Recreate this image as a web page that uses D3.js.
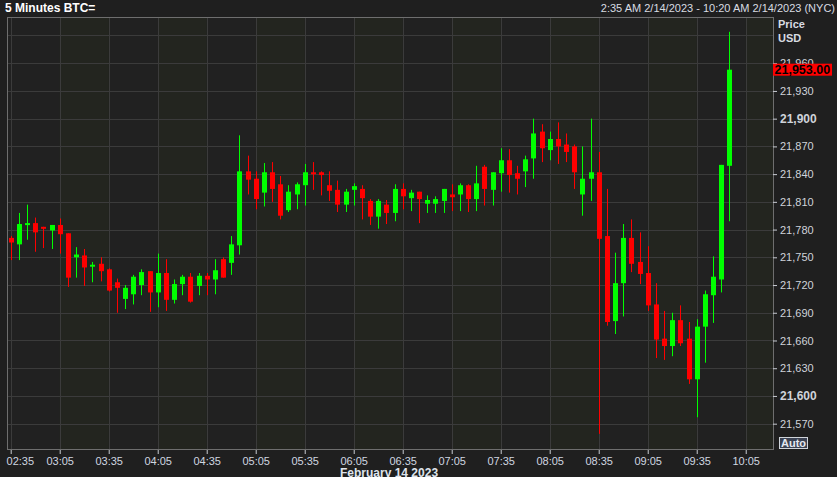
<!DOCTYPE html>
<html><head><meta charset="utf-8">
<script src="https://cdn.jsdelivr.net/npm/d3@7"></script>
<style>
html,body{margin:0;padding:0;background:#1f1f1f;}
svg{display:block;}
text{font-family:"Liberation Sans",Arial,sans-serif;}
</style></head><body>
<svg id="c" width="837" height="477"></svg>
<script>
const title = "5 Minutes BTC=";
const rangeText = "2:35 AM 2/14/2023 - 10:20 AM 2/14/2023 (NYC)";
const dateLabel = "February 14 2023";
const firstBar = "2023-02-14 02:35";
const barMinutes = 5;
const open  = [21771,21764,21785,21787,21783,21779,21785,21776,21750,21752,21740,21743,21737,21723,21705,21710,21720,21735,21712,21733,21704,21721,21729,21719,21730,21726,21748,21744,21763,21843,21835,21820,21842,21829,21801,21818,21828,21842,21842,21828,21823,21807,21823,21824,21811,21794,21807,21798,21824,21814,21821,21808,21808,21811,21818,21818,21828,21813,21848,21823,21841,21855,21841,21843,21857,21886,21866,21878,21872,21870,21818,21835,21842,21773,21681,21722,21771,21745,21733,21699,21662,21654,21682,21662,21618,21675,21709,21726,21849];
const high  = [21773,21798,21807,21793,21783,21785,21792,21776,21761,21759,21745,21750,21738,21727,21720,21731,21737,21735,21754,21748,21726,21731,21733,21733,21733,21748,21750,21773,21882,21860,21843,21852,21853,21838,21828,21831,21851,21853,21843,21843,21833,21824,21830,21828,21813,21813,21812,21829,21830,21823,21821,21817,21816,21824,21829,21830,21829,21849,21850,21842,21868,21867,21849,21860,21900,21894,21886,21896,21884,21872,21870,21900,21864,21824,21755,21786,21791,21777,21762,21722,21692,21690,21698,21680,21683,21714,21751,21850,21994];
const low   = [21747,21747,21769,21756,21760,21759,21754,21718,21728,21719,21723,21724,21713,21690,21694,21699,21709,21691,21696,21692,21700,21709,21701,21709,21709,21710,21728,21731,21753,21818,21802,21805,21810,21791,21799,21802,21806,21823,21817,21811,21799,21799,21806,21791,21785,21781,21786,21789,21802,21800,21787,21798,21798,21798,21800,21800,21799,21800,21806,21806,21821,21820,21818,21826,21835,21853,21855,21851,21853,21824,21795,21811,21559,21676,21667,21686,21734,21721,21692,21641,21639,21643,21654,21613,21577,21636,21679,21712,21789];
const close = [21766,21786,21787,21777,21781,21785,21775,21728,21753,21739,21742,21735,21714,21717,21717,21729,21734,21712,21733,21704,21721,21729,21702,21730,21726,21736,21728,21764,21843,21834,21813,21842,21824,21795,21821,21829,21842,21841,21839,21822,21807,21821,21827,21814,21794,21811,21798,21824,21816,21820,21813,21812,21813,21824,21815,21828,21813,21830,21824,21842,21855,21839,21835,21856,21884,21868,21878,21870,21864,21842,21835,21842,21770,21680,21722,21771,21743,21732,21698,21661,21654,21682,21657,21618,21675,21710,21729,21850,21953];
const yTicks = [21570,21600,21630,21660,21690,21720,21750,21780,21810,21840,21870,21900,21930,21960];
const yGrid  = [21570,21600,21630,21660,21690,21720,21750,21780,21810,21840,21870,21900,21930,21960,21990];
const xTicks = ["02:35","03:05","03:35","04:05","04:35","05:05","05:35","06:05","06:35","07:05","07:35","08:05","08:35","09:05","09:35","10:05"];
const lastPrice = 21953.00;

const W = 837, H = 477;
const L = 7, R = 773, T = 17, B = 449;
const svg = d3.select("#c");
const parseFull = d3.timeParse("%Y-%m-%d %H:%M");
const t0 = parseFull(firstBar);
const tickDates = xTicks.map(s => parseFull("2023-02-14 " + s));
const bars = open.map((o, i) => ({t: d3.timeMinute.offset(t0, barMinutes * i), o, h: high[i], l: low[i], c: close[i]}));

const x = d3.scaleTime()
  .domain([d3.timeSecond.offset(t0, -136), d3.timeSecond.offset(t0, 28002)])
  .range([L, R]);
const y = d3.scaleLinear().domain([21542.6, 22010]).range([B, T]);

// plot background
svg.append("rect").attr("x", L).attr("y", T).attr("width", R - L).attr("height", B - T).attr("fill", "#212121");
const bandEdges = tickDates.concat([d3.timeMinute.offset(tickDates[tickDates.length - 1], 30)]);
const bands = d3.range(bandEdges.length - 1).filter(k => k % 2 === 1).map(k => [bandEdges[k], bandEdges[k + 1]]);
svg.append("g").selectAll("rect").data(bands).join("rect")
  .attr("x", d => x(d[0])).attr("y", T)
  .attr("width", d => Math.min(x(d[1]), R) - x(d[0])).attr("height", B - T)
  .attr("fill", "#23251f");

// grid
const grid = svg.append("g").attr("stroke", "#3b3b3b").attr("stroke-width", 1);
grid.selectAll("line.h").data(yGrid).join("line").attr("class", "h")
  .attr("x1", L).attr("x2", R)
  .attr("y1", d => Math.round(y(d)) + 0.5).attr("y2", d => Math.round(y(d)) + 0.5);
grid.selectAll("line.v").data(tickDates).join("line").attr("class", "v")
  .attr("y1", T).attr("y2", B)
  .attr("x1", d => Math.round(x(d)) + 0.5).attr("x2", d => Math.round(x(d)) + 0.5);

// border
svg.append("rect").attr("x", L + 0.5).attr("y", T + 0.5).attr("width", R - L).attr("height", B - T)
  .attr("fill", "none").attr("stroke", "#6e6e6e");

// candles
const g = svg.append("g");
const col = d => d.c >= d.o ? "#00ff00" : "#ff0000";
g.selectAll("line").data(bars).join("line")
  .attr("x1", d => Math.round(x(d.t)) + 0.5).attr("x2", d => Math.round(x(d.t)) + 0.5)
  .attr("y1", d => y(d.h)).attr("y2", d => y(d.l))
  .attr("stroke", col).attr("stroke-width", 1);
g.selectAll("rect").data(bars).join("rect")
  .attr("x", d => Math.round(x(d.t)) - 2)
  .attr("width", 5)
  .attr("y", d => y(Math.max(d.o, d.c)))
  .attr("height", d => Math.max(2, Math.abs(y(d.o) - y(d.c))))
  .attr("fill", col);

// y axis
const yAxis = d3.axisRight(y).tickValues(yTicks).tickSize(4).tickPadding(3)
  .tickFormat(d3.format(","));
const ya = svg.append("g").attr("transform", `translate(${R},0)`).call(yAxis);
ya.select(".domain").remove();
ya.selectAll(".tick line").attr("stroke", "#c8ccd2");
ya.selectAll(".tick text").attr("fill", "#cfd3da")
  .style("font-size", d => d % 100 === 0 ? "12px" : "11px")
  .style("font-weight", d => d % 100 === 0 ? "bold" : "normal");

svg.append("text").attr("x", 778).attr("y", 28).attr("fill", "#d8dce2")
  .style("font-size", "11px").style("font-weight", "bold").text("Price");
svg.append("text").attr("x", 778).attr("y", 42).attr("fill", "#d8dce2")
  .style("font-size", "11px").style("font-weight", "bold").text("USD");

// last price tag
const ly = y(lastPrice);
svg.append("rect").attr("x", R).attr("y", ly - 6).attr("width", 59).attr("height", 12).attr("fill", "#ff0000");
svg.append("text").attr("x", R + 1.5).attr("y", ly).attr("dy", "0.36em").attr("fill", "#000000")
  .style("font-size", "12.5px").style("font-weight", "bold").text(d3.format(",.2f")(lastPrice));

// Auto box
svg.append("rect").attr("x", 779.5).attr("y", 437.5).attr("width", 28).attr("height", 11)
  .attr("fill", "#3a4152").attr("stroke", "#d0d4da");
svg.append("text").attr("x", 793.5).attr("y", 443).attr("dy", "0.36em").attr("text-anchor", "middle")
  .attr("fill", "#e4e8f0").style("font-size", "11px").style("font-weight", "bold").text("Auto");

// x axis
const xAxis = d3.axisBottom(x).tickValues(tickDates).tickSize(4).tickPadding(3)
  .tickFormat(d3.timeFormat("%H:%M"));
const xa = svg.append("g").attr("transform", `translate(0,${B + 1})`).call(xAxis);
xa.select(".domain").remove();
xa.selectAll(".tick line").attr("stroke", "#c8ccd2");
xa.selectAll(".tick text").attr("fill", "#cfd6e0").style("font-size", "11px");
xa.selectAll(".tick text").each(function(d) {
  const w = this.getComputedTextLength();
  const px = x(d);
  if (px - w / 2 < 6) d3.select(this).attr("x", 6 + w / 2 - px);
});

svg.append("text").attr("x", 340).attr("y", 477).attr("fill", "#dfe4ec")
  .style("font-size", "12px").style("font-weight", "bold").text(dateLabel);

// header
svg.append("text").attr("x", 5).attr("y", 12).attr("fill", "#ffffff")
  .style("font-size", "12px").style("font-weight", "bold").text(title);
svg.append("text").attr("x", 835).attr("y", 12).attr("text-anchor", "end").attr("fill", "#d8dce2")
  .style("font-size", "11px").text(rangeText);
</script>
</body></html>
